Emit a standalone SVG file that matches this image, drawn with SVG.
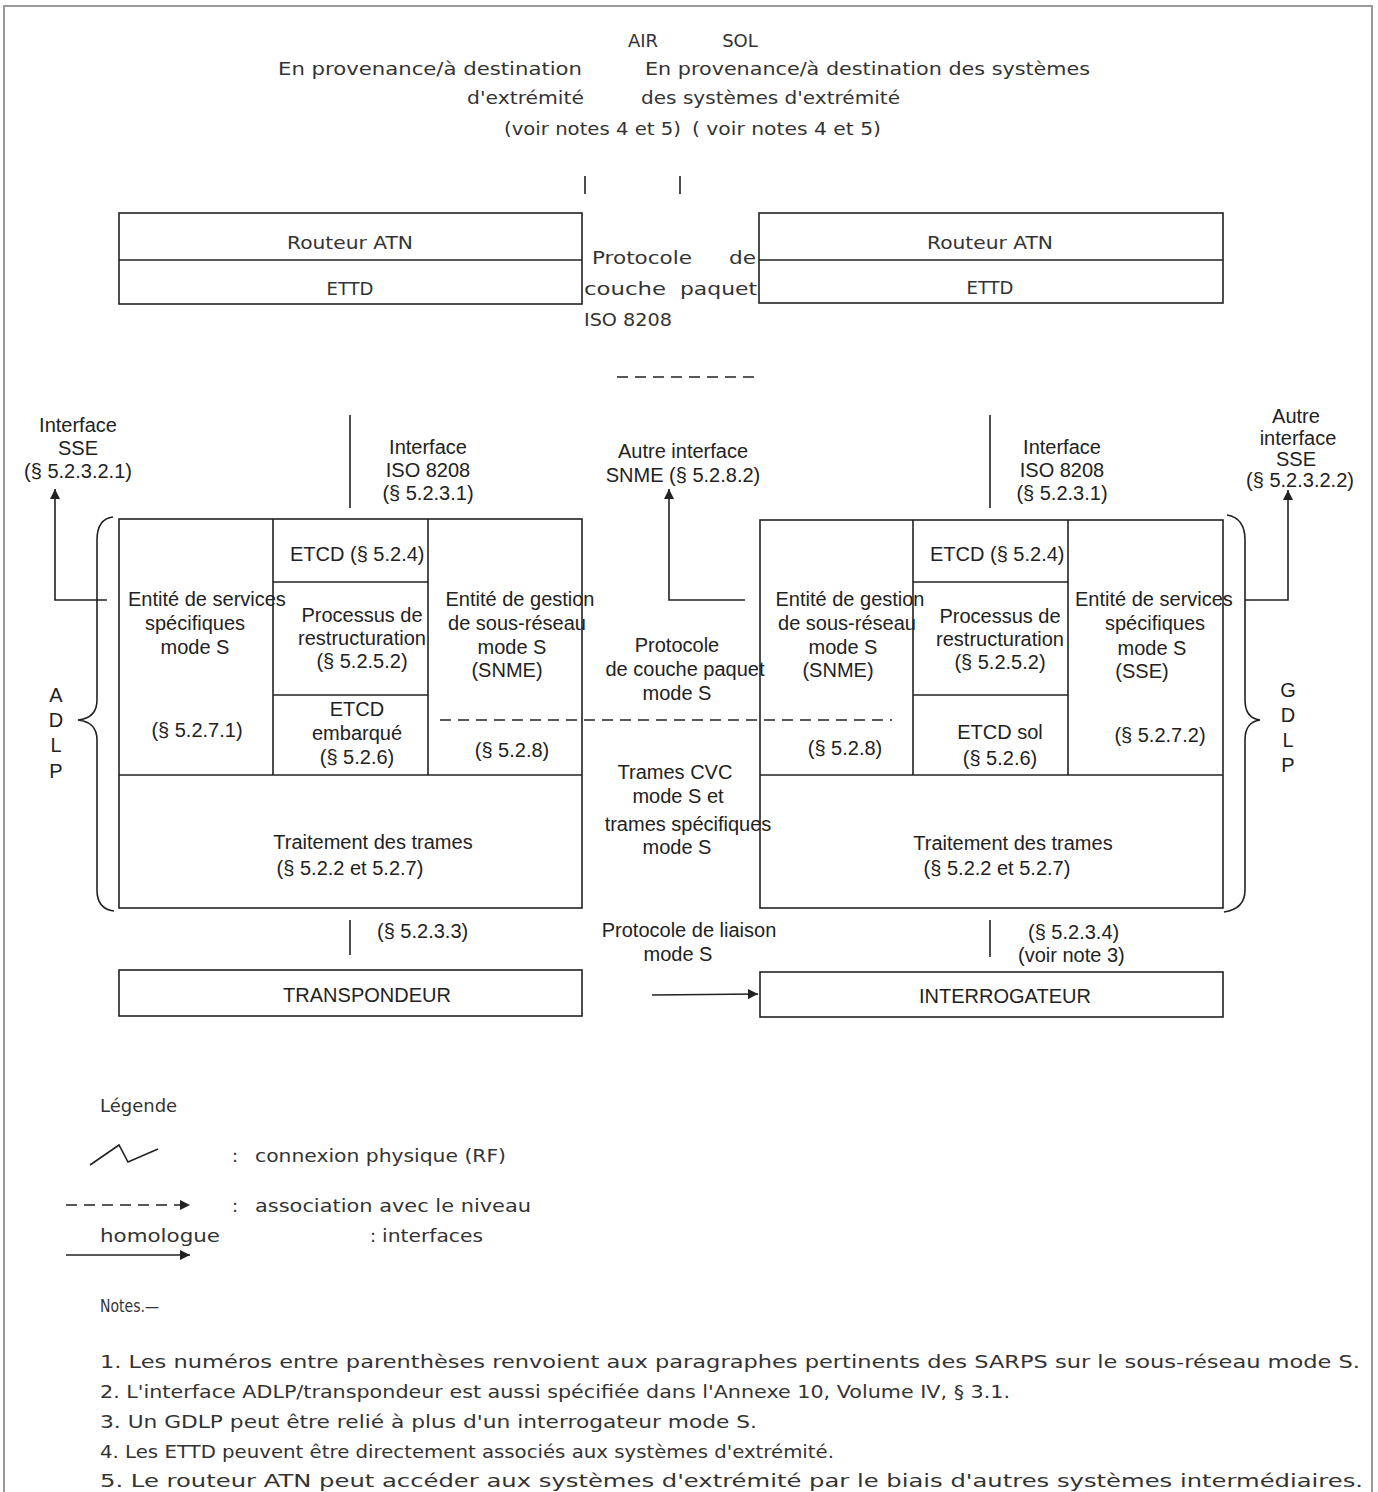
<svg xmlns="http://www.w3.org/2000/svg" width="1378" height="1492" viewBox="0 0 1378 1492">
<style>
.bg{fill:#ffffff}
.frame{fill:none;stroke:#9a9a9a;stroke-width:2}
.box{fill:none;stroke:#222;stroke-width:1.6}
.ln{fill:none;stroke:#222;stroke-width:1.6}
.dash{fill:none;stroke:#222;stroke-width:1.6;stroke-dasharray:11,7}
.a{font-family:"Liberation Sans",Arial,sans-serif;font-size:20px;fill:#222}
.am{font-family:"Liberation Sans",Arial,sans-serif;font-size:20px;fill:#222;text-anchor:middle}
.g{font-family:"DejaVu Sans","Liberation Sans",sans-serif;font-size:18px;fill:#333}
.gm{font-family:"DejaVu Sans","Liberation Sans",sans-serif;font-size:18px;fill:#333;text-anchor:middle}
</style>
<defs>
<marker id="ah" viewBox="0 0 10 10" refX="10" refY="5" markerWidth="10" markerHeight="10" markerUnits="userSpaceOnUse" orient="auto">
<path d="M0,0 L10,5 L0,10 z" fill="#222"/>
</marker>
</defs>
<rect class="bg" x="0" y="0" width="1378" height="1492"/>
<path class="frame" d="M4,1492 V6 H1372 V1492"/>

<g id="header">
<text class="gm" x="643" y="47">AIR</text>
<text class="gm" x="740" y="47">SOL</text>
<text class="g" x="278" y="75" textLength="304" lengthAdjust="spacingAndGlyphs">En provenance/à destination</text>
<text class="g" x="645" y="75" textLength="445" lengthAdjust="spacingAndGlyphs">En provenance/à destination des systèmes</text>
<text class="g" x="467" y="104" textLength="117" lengthAdjust="spacingAndGlyphs">d'extrémité</text>
<text class="g" x="641" y="104" textLength="259" lengthAdjust="spacingAndGlyphs">des systèmes d'extrémité</text>
<text class="g" x="504" y="135" textLength="177" lengthAdjust="spacingAndGlyphs">(voir notes 4 et 5)</text>
<text class="g" x="692" y="135" textLength="189" lengthAdjust="spacingAndGlyphs">( voir notes 4 et  5)</text>
</g>

<g id="router-air">
<rect class="box" x="119" y="213" width="463" height="91"/>
<line class="ln" x1="119" y1="260" x2="582" y2="260"/>
<text class="gm" x="350" y="249" textLength="126" lengthAdjust="spacingAndGlyphs">Routeur ATN</text>
<text class="gm" x="350" y="295">ETTD</text>
</g>

<g id="router-sol">
<rect class="box" x="759" y="213" width="464" height="90"/>
<line class="ln" x1="759" y1="260" x2="1223" y2="260"/>
<text class="gm" x="990" y="249" textLength="126" lengthAdjust="spacingAndGlyphs">Routeur ATN</text>
<text class="gm" x="990" y="294">ETTD</text>
</g>

<g id="iso-protocol">
<text class="g" x="592" y="264" textLength="100" lengthAdjust="spacingAndGlyphs">Protocole</text>
<text class="g" x="729" y="264" textLength="27" lengthAdjust="spacingAndGlyphs">de</text>
<text class="g" x="584" y="295" textLength="82" lengthAdjust="spacingAndGlyphs">couche</text>
<text class="g" x="680" y="295" textLength="77" lengthAdjust="spacingAndGlyphs">paquet</text>
<text class="g" x="584" y="326" textLength="88" lengthAdjust="spacingAndGlyphs">ISO 8208</text>
</g>

<g id="adlp">
<rect class="box" x="119" y="519" width="463" height="389"/>
<line class="ln" x1="119" y1="775" x2="582" y2="775"/>
<line class="ln" x1="273" y1="519" x2="273" y2="775"/>
<line class="ln" x1="428" y1="519" x2="428" y2="775"/>
<line class="ln" x1="273" y1="582" x2="428" y2="582"/>
<line class="ln" x1="273" y1="695" x2="428" y2="695"/>
<text class="a" x="290" y="561">ETCD (§ 5.2.4)</text>
<text class="a" x="128" y="606">Entité de services</text>
<text class="am" x="195" y="630">spécifiques</text>
<text class="am" x="195" y="654">mode S</text>
<text class="am" x="197" y="737">(§ 5.2.7.1)</text>
<text class="am" x="362" y="622">Processus de</text>
<text class="am" x="362" y="645">restructuration</text>
<text class="am" x="362" y="668">(§ 5.2.5.2)</text>
<text class="am" x="357" y="716">ETCD</text>
<text class="am" x="357" y="740">embarqué</text>
<text class="am" x="357" y="764">(§ 5.2.6)</text>
<text class="am" x="520" y="606">Entité de gestion</text>
<text class="am" x="517" y="630">de sous-réseau</text>
<text class="am" x="512" y="654">mode S</text>
<text class="am" x="507" y="677">(SNME)</text>
<text class="am" x="512" y="757">(§ 5.2.8)</text>
<text class="am" x="373" y="849">Traitement des trames</text>
<text class="am" x="350" y="875">(§ 5.2.2 et 5.2.7)</text>
<path class="ln" d="M113,517 Q97,519 97,540 L97,700 Q97,718 78,720 Q97,722 97,740 L97,890 Q97,909 114,911"/>
<text class="am" x="56" y="702">A</text>
<text class="am" x="56" y="727">D</text>
<text class="am" x="56" y="752">L</text>
<text class="am" x="56" y="778">P</text>
</g>

<g id="gdlp">
<rect class="box" x="760" y="520" width="463" height="388"/>
<line class="ln" x1="760" y1="775" x2="1223" y2="775"/>
<line class="ln" x1="913" y1="520" x2="913" y2="775"/>
<line class="ln" x1="1068" y1="520" x2="1068" y2="775"/>
<line class="ln" x1="913" y1="582" x2="1068" y2="582"/>
<line class="ln" x1="913" y1="695" x2="1068" y2="695"/>
<text class="a" x="930" y="561">ETCD (§ 5.2.4)</text>
<text class="am" x="850" y="606">Entité de gestion</text>
<text class="am" x="847" y="630">de sous-réseau</text>
<text class="am" x="843" y="654">mode S</text>
<text class="am" x="838" y="677">(SNME)</text>
<text class="am" x="845" y="755">(§ 5.2.8)</text>
<text class="am" x="1000" y="623">Processus de</text>
<text class="am" x="1000" y="646">restructuration</text>
<text class="am" x="1000" y="669">(§ 5.2.5.2)</text>
<text class="am" x="1000" y="739">ETCD sol</text>
<text class="am" x="1000" y="765">(§ 5.2.6)</text>
<text class="a" x="1075" y="606">Entité de services</text>
<text class="am" x="1155" y="630">spécifiques</text>
<text class="am" x="1152" y="655">mode S</text>
<text class="am" x="1142" y="678">(SSE)</text>
<text class="am" x="1160" y="742">(§ 5.2.7.2)</text>
<text class="am" x="1013" y="850">Traitement des trames</text>
<text class="am" x="997" y="875">(§ 5.2.2 et 5.2.7)</text>
<path class="ln" d="M1227,515 Q1245,518 1245,540 L1245,700 Q1245,718 1260,720 Q1245,722 1245,740 L1245,890 Q1245,909 1224,912"/>
<text class="am" x="1288" y="697">G</text>
<text class="am" x="1288" y="722">D</text>
<text class="am" x="1288" y="747">L</text>
<text class="am" x="1288" y="772">P</text>
</g>

<g id="middle-labels">
<text class="am" x="677" y="652">Protocole</text>
<text class="am" x="685" y="676">de couche paquet</text>
<text class="am" x="677" y="700">mode S</text>
<text class="am" x="675" y="779">Trames CVC</text>
<text class="am" x="678" y="803">mode S et</text>
<text class="am" x="688" y="831">trames spécifiques</text>
<text class="am" x="677" y="854">mode S</text>
<text class="am" x="689" y="937">Protocole de liaison</text>
<text class="am" x="678" y="961">mode S</text>
</g>

<g id="interface-labels">
<text class="am" x="78" y="432">Interface</text>
<text class="am" x="78" y="455">SSE</text>
<text class="am" x="78" y="478">(§ 5.2.3.2.1)</text>
<text class="am" x="428" y="454">Interface</text>
<text class="am" x="428" y="477">ISO 8208</text>
<text class="am" x="428" y="500">(§ 5.2.3.1)</text>
<text class="am" x="683" y="458">Autre interface</text>
<text class="am" x="683" y="482">SNME (§ 5.2.8.2)</text>
<text class="am" x="1062" y="454">Interface</text>
<text class="am" x="1062" y="477">ISO 8208</text>
<text class="am" x="1062" y="500">(§ 5.2.3.1)</text>
<text class="am" x="1296" y="423">Autre</text>
<text class="am" x="1298" y="445">interface</text>
<text class="am" x="1296" y="466">SSE</text>
<text class="am" x="1300" y="487">(§ 5.2.3.2.2)</text>
<text class="a" x="377" y="938">(§ 5.2.3.3)</text>
<text class="a" x="1028" y="939">(§ 5.2.3.4)</text>
<text class="a" x="1018" y="962">(voir note 3)</text>
</g>

<g id="transpondeur">
<rect class="box" x="119" y="970" width="463" height="46"/>
<text class="am" x="367" y="1002">TRANSPONDEUR</text>
</g>

<g id="interrogateur">
<rect class="box" x="760" y="972" width="463" height="45"/>
<text class="am" x="1005" y="1003">INTERROGATEUR</text>
</g>

<g id="connectors">
<line class="ln" x1="585" y1="176" x2="585" y2="194"/>
<line class="ln" x1="680" y1="176" x2="680" y2="194"/>
<line class="dash" x1="617" y1="377" x2="755" y2="377" stroke-dasharray="12,6"/>
<line class="ln" x1="350" y1="415" x2="350" y2="508"/>
<line class="ln" x1="990" y1="415" x2="990" y2="508"/>
<polyline class="ln" points="107,600 55,600 55,489" marker-end="url(#ah)"/>
<polyline class="ln" points="745,600 669,600 669,489" marker-end="url(#ah)"/>
<polyline class="ln" points="1245,600 1288,600 1288,490" marker-end="url(#ah)"/>
<line class="dash" x1="440" y1="720" x2="892" y2="720"/>
<line class="ln" x1="350" y1="920" x2="350" y2="955"/>
<line class="ln" x1="990" y1="920" x2="990" y2="957"/>
<line class="ln" x1="652" y1="995" x2="758" y2="994" marker-end="url(#ah)"/>
</g>

<g id="legend">
<text class="g" x="100" y="1112" font-size="19">Légende</text>
<polyline class="ln" points="90,1165 119,1145 128,1162 158,1149"/>
<text class="g" x="232" y="1162">:</text>
<text class="g" x="255" y="1162" textLength="251" lengthAdjust="spacingAndGlyphs">connexion physique (RF)</text>
<line class="dash" x1="66" y1="1205" x2="190" y2="1205" stroke-dasharray="10,7" marker-end="url(#ah)"/>
<text class="g" x="232" y="1212">:</text>
<text class="g" x="255" y="1212" textLength="276" lengthAdjust="spacingAndGlyphs">association avec le niveau</text>
<text class="g" x="100" y="1242" textLength="120" lengthAdjust="spacingAndGlyphs">homologue</text>
<text class="g" x="370" y="1242">:</text>
<text class="g" x="382" y="1242" textLength="101" lengthAdjust="spacingAndGlyphs">interfaces</text>
<line class="ln" x1="66" y1="1255" x2="190" y2="1255" stroke-width="2" marker-end="url(#ah)"/>
</g>

<g id="notes">
<text class="g" x="100" y="1312" font-size="15" textLength="59" lengthAdjust="spacingAndGlyphs">Notes.—</text>
<text class="g" x="100" y="1368" textLength="1260" lengthAdjust="spacingAndGlyphs">1. Les numéros entre parenthèses renvoient aux paragraphes pertinents des SARPS sur le sous-réseau mode S.</text>
<text class="g" x="100" y="1398" textLength="910" lengthAdjust="spacingAndGlyphs">2. L'interface ADLP/transpondeur est aussi spécifiée dans l'Annexe 10, Volume IV, §  3.1.</text>
<text class="g" x="100" y="1428" textLength="657" lengthAdjust="spacingAndGlyphs">3. Un GDLP peut être relié à plus d'un interrogateur mode S.</text>
<text class="g" x="100" y="1458" textLength="734" lengthAdjust="spacingAndGlyphs">4. Les ETTD peuvent être directement associés aux systèmes d'extrémité.</text>
<text class="g" x="100" y="1487" textLength="1263" lengthAdjust="spacingAndGlyphs">5. Le routeur ATN peut accéder aux systèmes d'extrémité par le biais d'autres systèmes intermédiaires.</text>
</g>
</svg>
